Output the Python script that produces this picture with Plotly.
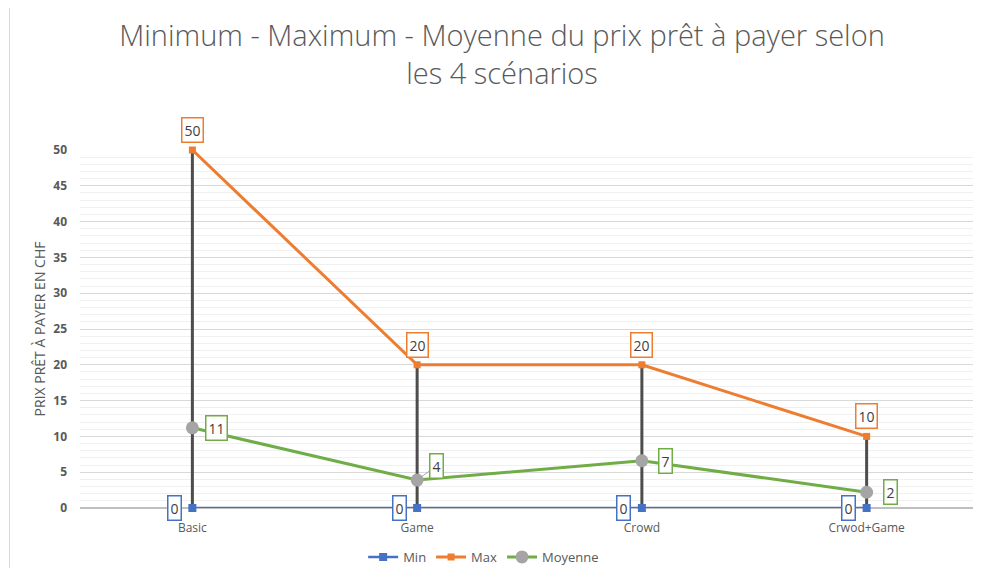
import plotly.graph_objects as go

categories = ["Basic", "Game", "Crowd", "Crwod+Game"]
min_vals = [0, 0, 0, 0]
max_vals = [50, 20, 20, 10]
moy_vals = [11.2, 3.9, 6.6, 2.2]
moy_labels = ["11", "4", "7", "2"]
y_ticks = [0, 5, 10, 15, 20, 25, 30, 35, 40, 45, 50]

BLUE = "#4472C4"
ORANGE = "#ED7D31"
GREEN = "#70AD47"
GRAYM = "#A5A5A5"
TXT = "#595959"

fig = go.Figure()

# drop lines
dx, dy = [], []
for c, lo, hi in zip(categories, min_vals, max_vals):
    dx += [c, c, None]
    dy += [lo, hi, None]
fig.add_trace(go.Scatter(x=dx, y=dy, mode="lines", line=dict(color="#4D4D4D", width=3),
                         showlegend=False, hoverinfo="skip", cliponaxis=False))

fig.add_trace(go.Scatter(x=categories, y=min_vals, name="Min", mode="lines+markers",
                         line=dict(color=BLUE, width=2.5),
                         marker=dict(symbol="square", size=8, color=BLUE), cliponaxis=False))
fig.add_trace(go.Scatter(x=categories, y=max_vals, name="Max", mode="lines+markers",
                         line=dict(color=ORANGE, width=3),
                         marker=dict(symbol="square", size=7, color=ORANGE), cliponaxis=False))
fig.add_trace(go.Scatter(x=categories, y=moy_vals, name="Moyenne", mode="lines+markers",
                         line=dict(color=GREEN, width=3),
                         marker=dict(symbol="circle", size=13, color=GRAYM), cliponaxis=False))

ann = []
def box(x, y, text, color, xs=0, ys=0):
    return dict(x=x, y=y, text=text, showarrow=False, xshift=xs, yshift=ys,
                bordercolor=color, borderwidth=1.5, borderpad=2, bgcolor="white",
                font=dict(family="Open Sans", size=14, color="#404040"))

for c, v in zip(categories, min_vals):
    ann.append(box(c, v, str(v), BLUE, xs=-18))
for c, v in zip(categories, max_vals):
    ann.append(box(c, v, str(v), ORANGE, ys=20))
for i, (c, v, t) in enumerate(zip(categories, moy_vals, moy_labels)):
    if i == 1:
        a = box(c, v, t, GREEN)
        a.update(showarrow=True, ax=19, ay=-14, arrowhead=0, arrowwidth=1,
                 arrowcolor="#A5A5A5", standoff=0, xanchor="center", yanchor="middle")
        ann.append(a)
    else:
        ann.append(box(c, v, t, GREEN, xs=24))

fig.update_layout(
    width=981, height=568,
    margin=dict(l=72, r=10, t=142, b=68, autoexpand=False),
    paper_bgcolor="white", plot_bgcolor="white",
    title=dict(text="Minimum - Maximum - Moyenne du prix prêt à payer selon<br>les 4 scénarios",
               x=0.5036, xanchor="center", y=0.933, yanchor="top",
               font=dict(family="Open Sans", size=29, color=TXT, weight=300)),
    font=dict(family="Open Sans", color=TXT),
    xaxis=dict(type="category", range=[-0.5, 3.5], showgrid=False, showline=False,
               zeroline=False, ticks="", tickfont=dict(size=12, color=TXT),
               ticklabelstandoff=11, automargin=False),
    yaxis=dict(range=[0, 50], tickvals=y_ticks, showgrid=True, gridcolor="#D9D9D9",
               gridwidth=1, zeroline=True, zerolinecolor="#BFBFBF", zerolinewidth=1.5,
               minor=dict(dtick=1, showgrid=True, gridcolor="#F0F0F0", gridwidth=1),
               tickfont=dict(size=12, color=TXT, family="Open Sans", weight="bold"),
               ticklabelstandoff=12, automargin=False,
               title=dict(text="PRIX PRÊT À PAYER EN CHF", font=dict(size=14, color=TXT), standoff=4)),
    legend=dict(orientation="h", x=0.449, xanchor="center", y=-0.095, yanchor="top",
                itemwidth=30, font=dict(size=13, color=TXT)),
    annotations=ann,
    shapes=[dict(type="line", xref="paper", yref="paper", x0=-0.0784, x1=-0.0784, y0=-0.2, y1=1.45,
                 line=dict(color="#D9D9D9", width=1))],
)

fig.write_html("out.html")
